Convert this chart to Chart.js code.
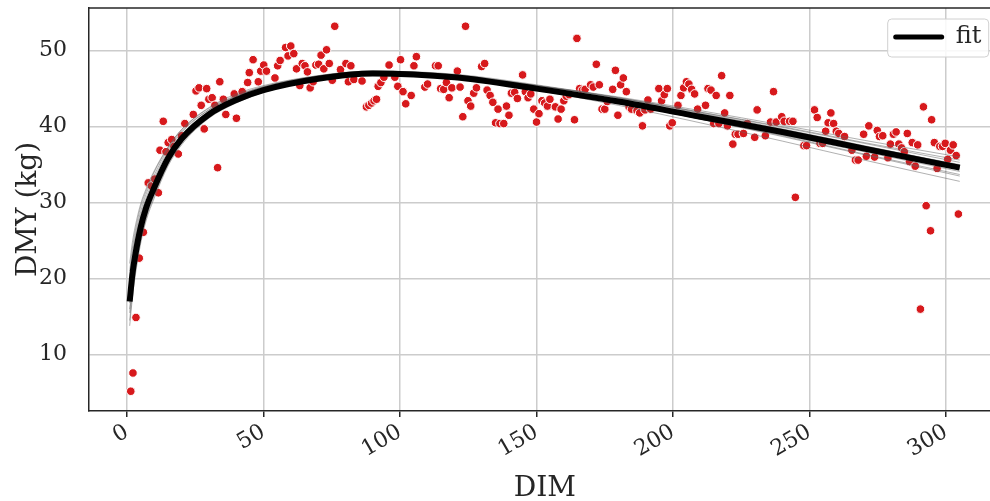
<!DOCTYPE html>
<html>
<head>
<meta charset="utf-8">
<script src="https://cdn.jsdelivr.net/npm/chart.js@4.4.0/dist/chart.umd.min.js"></script>
<style>
  html, body { margin: 0; background: #fff; overflow: hidden; }
  #lactation { display: block; }
</style>
</head>
<body>
<!-- the axes run a little past the right edge of the picture, so the canvas is a bit wider than the window -->
<canvas id="lactation" width="1006" height="501"></canvas>
<script>
// observed daily yields (days in milk, kg)
const dimObs = [1.4, 2.2, 3.3, 4.5, 6.0, 7.8, 9.0, 10.2, 11.5, 12.1, 13.3, 14.3, 15.1, 16.4, 17.2, 18.8, 20.0, 21.2,
  24.3, 25.3, 26.4, 27.2, 28.3, 29.2, 30.0, 31.2, 32.2, 33.2, 34.0, 35.3, 36.2, 39.3, 40.1, 42.2, 44.2, 44.8,
  46.2, 48.1, 49.0, 50.1, 51.1, 54.2, 55.2, 56.1, 58.1, 59.0, 60.0, 61.1, 62.1, 63.3, 64.2, 65.2, 66.1, 67.1,
  68.2, 69.2, 70.2, 71.1, 72.1, 73.1, 74.1, 75.2, 76.1, 78.2, 80.2, 81.1, 82.0, 83.1, 86.1, 87.7, 88.6, 89.6,
  90.5, 91.4, 92.0, 93.0, 94.1, 96.0, 98.1, 99.2, 100.2, 101.1, 102.1, 104.1, 105.1, 106.0, 109.1, 110.1, 113.0,
  114.0, 114.9, 116.0, 117.0, 118.0, 119.0, 121.0, 122.0, 123.0, 124.0, 124.9, 125.9, 127.0, 128.0, 129.9, 131.0,
  131.9, 133.0, 134.0, 135.0, 135.9, 136.6, 138.0, 139.0, 139.9, 140.8, 142.0, 143.0, 144.9, 145.9, 146.9, 147.9,
  149.0, 150.0, 150.9, 152.0, 153.0, 154.0, 154.9, 156.9, 157.9, 159.0, 160.0, 160.9, 161.9, 163.9, 164.8, 165.8,
  166.8, 167.8, 169.8, 170.8, 171.9, 173.0, 174.0, 175.0, 175.9, 177.9, 178.9, 179.8, 180.8, 181.8, 182.9, 183.9,
  184.8, 186.8, 187.8, 188.8, 189.7, 190.8, 191.8, 194.8, 195.8, 196.8, 197.9, 198.8, 199.7, 201.8, 202.9, 203.9,
  204.9, 205.8, 206.8, 207.9, 209.0, 211.9, 212.8, 213.9, 214.9, 215.8, 216.8, 217.8, 218.9, 219.9, 220.8, 221.9,
  222.8, 223.8, 225.8, 227.2, 229.9, 230.8, 233.8, 235.7, 236.8, 237.8, 239.8, 240.7, 242.7, 243.9, 244.8, 247.9,
  248.9, 251.8, 252.8, 253.8, 254.8, 255.9, 256.8, 257.8, 258.8, 259.8, 260.7, 262.8, 265.5, 266.8, 267.8, 269.8,
  270.8, 271.7, 273.8, 274.8, 275.6, 276.8, 278.7, 279.6, 280.7, 281.7, 282.7, 283.7, 284.7, 285.8, 286.6, 287.6,
  288.7, 289.6, 290.6, 291.7, 292.7, 294.3, 294.7, 295.7, 296.7, 297.7, 298.7, 299.7, 300.6, 301.6, 302.6, 303.7,
  304.5];
const dmyObs = [5.2, 7.6, 14.9, 22.7, 26.1, 32.6, 32.2, 33.1, 31.3, 36.9, 40.7, 36.7, 37.9, 38.3, 37.4, 36.4, 38.8, 40.4,
  41.6, 44.7, 45.1, 42.8, 39.7, 45.0, 43.6, 43.8, 42.8, 34.6, 45.9, 43.6, 41.6, 44.3, 41.1, 44.6, 45.8, 47.1,
  48.8, 45.9, 47.3, 48.1, 47.3, 46.4, 48.0, 48.7, 50.4, 49.3, 50.6, 49.6, 47.6, 45.4, 48.3, 48.0, 47.2, 45.1,
  45.9, 48.1, 48.2, 49.4, 47.6, 50.1, 48.3, 46.1, 53.2, 47.5, 48.3, 45.9, 48.0, 46.2, 46.0, 42.6, 42.8, 43.1,
  43.4, 43.6, 45.3, 45.8, 46.5, 48.1, 46.5, 45.3, 48.8, 44.6, 43.0, 44.1, 48.0, 49.2, 45.2, 45.6, 48.0,
  48.0, 45.0, 44.9, 45.8, 43.8, 45.1, 47.3, 45.2, 41.3, 53.2, 43.4, 42.7, 44.4, 45.1, 47.9, 48.3,
  44.8, 44.1, 43.2, 40.5, 42.3, 40.4, 40.4, 42.7, 41.5, 44.4, 44.5, 43.7, 46.8, 44.6, 43.8, 44.3,
  42.3, 40.6, 41.7, 43.4, 43.1, 42.7, 43.6, 42.6, 41.0, 42.3, 43.4, 44.0, 44.2, 40.9, 51.6, 45.0,
  44.8, 44.9, 45.5, 45.2, 48.2, 45.5, 42.3, 42.3, 43.3, 44.9, 47.4, 41.5, 45.5, 46.4, 44.6, 42.6,
  42.3, 42.1, 41.8, 40.1, 42.2, 43.5, 42.3, 45.0, 43.4, 44.2, 45.0, 40.1, 40.5, 42.8, 44.1, 45.1,
  45.9, 45.6, 44.9, 44.3, 42.3, 42.8, 45.0, 44.8, 40.4, 44.1, 40.4, 46.7, 41.8, 40.1, 44.1, 37.7,
  39.0, 39.0, 39.1, 40.4, 38.6, 42.2, 38.8, 40.6, 44.6, 40.6, 41.3, 40.7, 40.7, 40.7, 30.7, 37.5,
  37.5, 42.2, 41.2, 37.8, 37.8, 39.4, 40.5, 41.8, 40.4, 39.4, 39.1, 38.7, 36.9, 35.6, 35.6, 39.0,
  36.1, 40.1, 36.0, 39.5, 38.7, 38.8, 35.9, 37.7, 39.0, 39.3, 37.7, 37.2, 36.7, 39.1, 35.4, 37.9,
  34.8, 37.6, 16.0, 42.6, 29.6, 26.3, 40.9, 37.9, 34.5, 37.4, 37.4, 37.8, 35.7, 36.9, 37.6, 36.2,
  28.5];

// fitted curve and a few posterior draws, read at these days
const curveDim = [1, 2, 3, 5, 7, 10, 15, 20, 30, 40, 50, 70, 90, 120, 150, 180, 210, 240, 270, 305];
const fitDmy = [17.0, 20.6, 23.0, 26.7, 29.3, 32.0, 35.8, 38.4, 41.6, 43.5, 44.8, 46.3, 47.0, 46.5, 45.0, 43.3, 41.3, 39.3, 37.1, 34.6];
const drawDmy = [
  [21.0, 24.0, 26.2, 29.4, 31.5, 34.0, 37.2, 39.6, 42.5, 44.3, 45.4, 46.7, 47.3, 46.8, 45.4, 43.8, 41.9, 40.0, 37.9, 35.6],
  [13.8, 17.5, 20.3, 24.6, 27.6, 30.6, 34.8, 37.6, 41.1, 43.1, 44.5, 46.1, 46.8, 46.4, 45.0, 43.4, 41.5, 39.5, 37.4, 35.0],
  [19.0, 22.5, 25.0, 28.3, 30.6, 33.2, 36.7, 39.2, 42.2, 44.0, 45.2, 46.6, 47.3, 46.9, 45.5, 43.8, 41.8, 39.7, 37.5, 34.9],
  [15.5, 19.0, 21.8, 25.6, 28.3, 31.2, 35.2, 37.9, 41.4, 43.4, 44.8, 46.4, 47.1, 46.6, 45.0, 43.2, 41.0, 38.8, 36.4, 33.7],
  [18.0, 21.5, 24.0, 27.5, 30.0, 32.6, 36.4, 38.9, 42.0, 43.8, 45.0, 46.5, 47.2, 46.8, 45.4, 43.7, 41.7, 39.6, 37.4, 34.9],
  [16.0, 19.8, 22.6, 26.4, 29.0, 31.8, 35.6, 38.2, 41.6, 43.6, 45.0, 46.6, 47.2, 46.5, 44.8, 42.8, 40.5, 38.1, 35.6, 32.8],
  [17.5, 20.8, 23.2, 26.7, 29.2, 31.9, 35.6, 38.2, 41.3, 43.2, 44.6, 46.1, 46.9, 46.6, 45.4, 43.9, 42.1, 40.2, 38.2, 36.0],
  [20.0, 23.3, 25.6, 28.8, 31.1, 33.6, 37.0, 39.4, 42.2, 44.0, 45.2, 46.5, 47.1, 46.6, 45.1, 43.4, 41.4, 39.3, 37.1, 34.5],
  [14.5, 18.2, 21.0, 25.0, 27.9, 30.9, 35.0, 37.8, 41.2, 43.2, 44.6, 46.2, 46.9, 46.4, 44.9, 43.1, 41.0, 38.9, 36.7, 34.1],
  [22.0, 24.8, 26.8, 29.8, 31.8, 34.2, 37.3, 39.6, 42.4, 44.1, 45.3, 46.6, 47.2, 46.7, 45.2, 43.5, 41.5, 39.4, 37.2, 34.6],
  [16.8, 20.2, 22.8, 26.5, 29.1, 31.9, 35.8, 38.5, 41.9, 43.9, 45.2, 46.7, 47.3, 46.7, 45.1, 43.2, 41.0, 38.7, 36.3, 33.5],
  [18.5, 21.8, 24.2, 27.6, 30.0, 32.6, 36.1, 38.6, 41.7, 43.6, 44.9, 46.4, 47.1, 46.7, 45.4, 43.8, 41.9, 39.9, 37.8, 35.3]
];

const xTicks = [0, 50, 100, 150, 200, 250, 300];
const yTicks = [10, 20, 30, 40, 50];

const ink = '#262626';
const serif = "'DejaVu Serif', serif";

function pairs(xs, ys) {
  return xs.map((x, i) => ({ x: x, y: ys[i] }));
}

// keep the plot box where it is in the picture
function noPadding(scale) {
  scale.paddingTop = 0;
  scale.paddingBottom = 0;
  scale.paddingLeft = 0;
  scale.paddingRight = 0;
}

const datasets = [];
// scatter goes under everything
datasets.push({
  type: 'scatter',
  data: pairs(dimObs, dmyObs),
  backgroundColor: '#d7191c',
  borderColor: '#ffffff',
  borderWidth: 1,
  pointRadius: 4.3,
  order: 3
});
drawDmy.forEach(d => {
  datasets.push({
    type: 'line',
    data: pairs(curveDim, d),
    borderColor: 'rgba(100, 100, 100, 0.5)',
    borderWidth: 1,
    pointRadius: 0,
    cubicInterpolationMode: 'monotone',
    order: 2
  });
});
datasets.push({
  type: 'line',
  label: 'fit',
  data: pairs(curveDim, fitDmy),
  borderColor: '#000000',
  borderWidth: 6,
  pointRadius: 0,
  cubicInterpolationMode: 'monotone',
  order: 1
});

// top spine and the legend box in the upper right
const frameAndLegend = {
  id: 'frameAndLegend',
  afterDraw(chart) {
    const c = chart.ctx;
    const a = chart.chartArea;
    c.save();
    c.strokeStyle = ink;
    c.lineWidth = 1.5;
    c.beginPath();
    c.moveTo(a.left, a.top);
    c.lineTo(a.right, a.top);
    c.stroke();

    const bx = a.right - 113, by = a.top + 11, bw = 101, bh = 38;
    c.beginPath();
    c.roundRect(bx, by, bw, bh, 4);
    c.fillStyle = 'rgba(255,255,255,0.85)';
    c.fill();
    c.strokeStyle = '#d0d0d0';
    c.lineWidth = 1;
    c.stroke();

    c.strokeStyle = '#000';
    c.lineWidth = 5;
    c.lineCap = 'round';
    c.beginPath();
    c.moveTo(bx + 8, by + 18);
    c.lineTo(bx + 54, by + 18);
    c.stroke();

    c.fillStyle = ink;
    c.font = '24px ' + serif;
    c.textBaseline = 'middle';
    c.fillText('fit', bx + 68, by + 18);
    c.restore();
  }
};

const ctx = document.getElementById('lactation').getContext('2d');
const chart = new Chart(ctx, {
  type: 'scatter',
  data: { datasets: datasets },
  plugins: [frameAndLegend],
  options: {
    responsive: false,
    animation: false,
    layout: { padding: { top: 8, right: 0, left: 0, bottom: 0 } },
    plugins: {
      legend: { display: false },
      tooltip: { enabled: false }
    },
    scales: {
      x: {
        type: 'linear',
        min: -13.9,
        max: 320.0,
        afterBuildTicks: scale => { scale.ticks = xTicks.map(v => ({ value: v })); },
        afterFit: scale => { scale.height = 90; noPadding(scale); },
        grid: { color: '#cccccc', lineWidth: 1.5, tickLength: 6, tickColor: ink, tickWidth: 1.5 },
        border: { color: ink, width: 1.5 },
        ticks: {
          color: ink,
          font: { family: serif, size: 22 },
          minRotation: 30,
          maxRotation: 30,
          padding: 2
        },
        title: {
          display: true,
          text: 'DIM',
          color: ink,
          font: { family: serif, size: 28 },
          padding: { top: 0, bottom: -5 }
        }
      },
      y: {
        type: 'linear',
        min: 2.6,
        max: 55.6,
        afterBuildTicks: scale => { scale.ticks = yTicks.map(v => ({ value: v })); },
        afterFit: scale => { scale.width = 89; noPadding(scale); },
        grid: { color: '#cccccc', lineWidth: 1.5, drawTicks: false },
        border: { color: ink, width: 1.5 },
        ticks: {
          color: ink,
          font: { family: serif, size: 22 },
          padding: 22
        },
        title: {
          display: true,
          text: 'DMY (kg)',
          color: ink,
          font: { family: serif, size: 28 },
          padding: { top: 12, bottom: 0 }
        }
      }
    }
  }
});
</script>
</body>
</html>
